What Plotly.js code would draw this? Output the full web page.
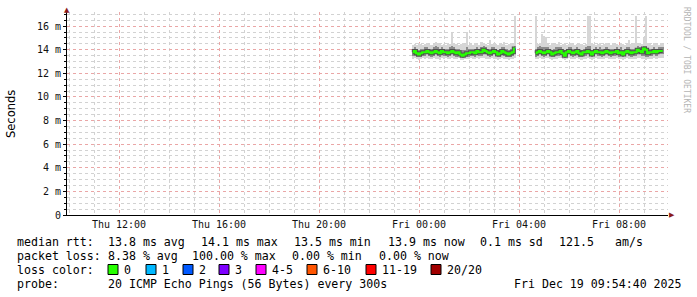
<!DOCTYPE html>
<html><head><meta charset="utf-8">
<script src="https://cdn.plot.ly/plotly-3.0.1.min.js"></script>
<style>html,body{margin:0;padding:0;background:#fff}#chart{width:697px;height:297px}</style>
</head><body><div id="chart"></div>
<script>
// ---- data (milliseconds), 5-minute steps starting Thu 23:45 ----
const startTime = '2025-12-18T23:45:00Z';
const stepSeconds = 300;

const medianMs = [
 13.8,13.9,13.7,13.6,13.7,13.8,13.8,13.9,13.8,13.7,
 13.8,13.9,13.8,13.7,13.9,13.8,13.8,13.7,13.8,13.9,
 13.8,13.7,13.8,13.6,13.5,13.6,13.7,13.7,13.8,13.8,
 13.7,13.9,13.8,13.8,14.0,13.9,13.8,13.7,13.8,13.9,
 13.8,13.6,13.7,13.9,13.8,13.7,13.6,13.7,13.8,14.1,
 null,null,null,null,null,null,null,null,null,
 13.7,13.8,13.9,13.8,13.7,13.8,13.9,13.8,13.6,13.7,
 13.8,13.8,13.9,13.7,13.5,13.8,13.9,13.8,13.7,13.8,
 13.9,13.7,13.6,13.8,13.8,13.9,13.8,13.6,13.8,13.9,
 13.8,13.8,13.7,13.8,13.9,13.8,13.7,13.8,13.8,13.9,
 13.7,13.8,13.6,13.8,13.9,13.8,13.7,13.8,13.8,14.0,
 13.9,13.8,14.1,14.0,13.7,13.8,13.8,13.9,13.8,13.9,
 13.9,13.9
];
const minMs = [
 13.2,13.3,13.2,13.1,13.2,13.3,13.2,13.3,13.2,13.2,
 13.3,13.2,13.2,13.1,13.3,13.2,13.3,13.2,13.2,13.3,
 13.2,13.2,13.3,13.1,13.1,13.2,13.2,13.2,13.3,13.2,
 13.2,13.3,13.2,13.3,13.3,13.2,13.2,13.2,13.3,13.2,
 13.2,13.1,13.2,13.3,13.2,13.2,13.1,13.2,13.2,13.3,
 null,null,null,null,null,null,null,null,null,
 13.2,13.2,13.3,13.2,13.2,13.3,13.3,13.2,13.1,13.2,
 13.2,13.3,13.3,13.2,13.1,13.2,13.3,13.2,13.2,13.2,
 13.3,13.2,13.1,13.2,13.2,13.3,13.2,13.1,13.2,13.3,
 13.2,13.2,13.2,13.2,13.3,13.2,13.2,13.2,13.2,13.3,
 13.2,13.2,13.1,13.2,13.3,13.2,13.2,13.2,13.2,13.3,
 13.3,13.2,13.2,13.1,13.2,13.2,13.2,13.3,13.2,13.3,
 13.3,13.3
];
const q1Ms = [
 13.5,13.5,13.4,13.4,13.4,13.5,13.5,13.6,13.5,13.4,
 13.5,13.6,13.5,13.4,13.6,13.5,13.5,13.4,13.5,13.6,
 13.5,13.4,13.5,13.4,13.3,13.4,13.4,13.4,13.5,13.5,
 13.4,13.6,13.5,13.5,13.6,13.6,13.5,13.4,13.5,13.6,
 13.5,13.4,13.4,13.6,13.5,13.4,13.4,13.4,13.5,13.6,
 null,null,null,null,null,null,null,null,null,
 13.4,13.5,13.6,13.5,13.4,13.5,13.6,13.5,13.4,13.4,
 13.5,13.5,13.6,13.4,13.3,13.5,13.6,13.5,13.4,13.5,
 13.6,13.4,13.4,13.5,13.5,13.6,13.5,13.4,13.5,13.6,
 13.5,13.5,13.4,13.5,13.6,13.5,13.4,13.5,13.5,13.6,
 13.4,13.5,13.4,13.5,13.6,13.5,13.4,13.5,13.5,13.7,
 13.6,13.5,13.5,13.4,13.4,13.5,13.5,13.6,13.5,13.6,
 13.6,13.6
];
const q3Ms = [
 14.1,14.2,14.1,14.0,14.1,14.1,14.2,14.2,14.1,14.1,
 14.2,14.3,14.2,14.1,14.2,14.1,14.1,14.1,14.2,14.3,
 14.2,14.1,14.1,14.0,14.0,14.0,14.2,14.1,14.1,14.1,
 14.1,14.2,14.1,14.2,14.3,14.2,14.1,14.1,14.2,14.2,
 14.1,14.0,14.1,14.2,14.2,14.1,14.0,14.1,14.1,14.3,
 null,null,null,null,null,null,null,null,null,
 14.1,14.2,14.3,14.2,14.2,14.2,14.2,14.1,14.0,14.1,
 14.2,14.2,14.2,14.1,14.0,14.1,14.2,14.2,14.1,14.1,
 14.2,14.1,14.0,14.1,14.2,14.3,14.3,14.0,14.1,14.2,
 14.1,14.2,14.1,14.1,14.2,14.1,14.1,14.1,14.1,14.2,
 14.1,14.2,14.0,14.1,14.2,14.2,14.1,14.1,14.1,14.3,
 14.2,14.2,14.3,14.3,14.1,14.1,14.1,14.2,14.1,14.2,
 14.2,14.2
];
const maxMs = [
 14.4,14.5,14.4,14.6,14.5,14.4,14.5,14.6,14.5,14.4,
 14.5,14.7,14.6,14.5,14.4,14.5,14.4,14.6,14.5,15.4,
 14.6,14.5,14.4,14.5,14.6,14.5,15.5,14.4,14.5,14.4,
 14.6,14.5,14.4,14.7,14.6,14.5,14.4,14.8,14.5,14.6,
 14.5,14.4,14.6,14.5,14.7,14.4,14.5,14.6,14.5,16.9,
 null,null,null,null,null,null,null,null,null,
 16.9,14.5,14.6,15.3,15.2,15.1,14.5,14.4,14.6,14.5,
 14.5,14.7,14.4,14.5,14.6,14.4,14.5,14.6,14.5,14.4,
 14.5,14.6,14.5,14.4,14.5,16.9,16.9,14.6,14.5,14.4,
 14.5,14.6,14.4,14.5,14.6,14.5,14.4,14.6,14.5,14.5,
 14.4,14.6,14.5,14.4,14.5,14.8,14.5,14.6,16.9,14.5,
 14.6,14.5,15.0,16.9,14.6,14.5,14.4,14.6,14.5,14.4,
 14.6,14.5
];
const lostPings = [
 0,0,0,0,0,0,0,0,0,0, 0,0,0,0,0,0,0,0,0,0, 0,0,0,0,0,0,0,0,0,0,
 0,0,0,0,0,0,0,0,0,0, 0,0,0,0,0,0,0,0,0,1,
 20,20,20,20,20,20,20,20,20,
 0,0,0,0,0,0,0,0,0,0, 0,0,0,0,0,0,0,0,0,0, 0,0,0,0,0,0,0,0,0,0,
 0,0,0,0,0,0,0,0,0,0, 0,0,0,0,0,0,0,0,0,0, 0,0,1,1,0,0,0,0,0,0,
 0,0
];

const yTickVals = [0,2,4,6,8,10,12,14,16];
const yTickText = ['0','2 m','4 m','6 m','8 m','10 m','12 m','14 m','16 m'];
const xTickVals = ['2025-12-18 12:00','2025-12-18 16:00','2025-12-18 20:00','2025-12-19 00:00','2025-12-19 04:00','2025-12-19 08:00'];
const xTickText = ['Thu 12:00','Thu 16:00','Thu 20:00','Fri 00:00','Fri 04:00','Fri 08:00'];
const xRange = ['2025-12-18 09:55:12','2025-12-19 09:57:36'];

const lossLabels = ['0','1','2','3','4-5','6-10','11-19','20/20'];
const lossColors = ['#26ff00','#00b8ff','#0059ff','#7e00ff','#ff00ff','#ff5500','#ff0000','#a10000'];

const statRtt = ['median rtt:','13.8 ms avg','14.1 ms max','13.5 ms min','13.9 ms now','0.1 ms sd','121.5','am/s'];
const statLoss = ['packet loss:','8.38 % avg','100.00 % max','0.00 % min','0.00 % now'];
const probeText = ['probe:','20 ICMP Echo Pings (56 Bytes) every 300s','Fri Dec 19 09:54:40 2025'];

// ---- build ----
function timeAt(i){
  const d = new Date(Date.parse(startTime) + i*stepSeconds*1000);
  return d.toISOString().slice(0,19).replace('T',' ');
}
const times = medianMs.map((_,i)=>timeAt(i));
const binMs = stepSeconds*1000;

const L=67,R=668,T=12,B=215;
const px = x => (x-L)/(R-L);
const py = y => (B-y)/(B-T);

const span = (a,b)=>a.map((v,i)=> (v==null||b[i]==null)?null:+(b[i]-v).toFixed(3));

function lossColorIndex(n){
  if(n==null) return 0;
  if(n<=3) return n;
  if(n<=5) return 4;
  if(n<=10) return 5;
  if(n<=19) return 6;
  return 7;
}
const lossMedian = medianMs.map((v,i)=> (v!=null && lostPings[i]>0) ? 0.17 : null);
const lossBase = medianMs.map((v,i)=> v==null?null:v-0.085);
const lossCol = lostPings.map(n=>lossColors[lossColorIndex(n)]);

const traces = [
  {type:'bar', x:times, base:minMs, y:span(minMs,maxMs), width:binMs,
   marker:{color:'#d6d6d6', line:{width:0}}, hoverinfo:'skip', showlegend:false},
  {type:'bar', x:times, base:q1Ms, y:span(q1Ms,q3Ms), width:binMs,
   marker:{color:'#8c8c8c', line:{width:0}}, hoverinfo:'skip', showlegend:false},
  {type:'scatter', mode:'lines', x:times, y:medianMs, line:{color:'#505050', width:4, shape:'hvh'},
   connectgaps:false, hoverinfo:'skip', showlegend:false},
  {type:'scatter', mode:'lines', x:times, y:medianMs, line:{color:'#26ff00', width:2, shape:'hvh'},
   connectgaps:false, hoverinfo:'skip', showlegend:false},
  {type:'bar', x:times, base:lossBase, y:lossMedian, width:binMs,
   marker:{color:lossCol, line:{width:0}}, hoverinfo:'skip', showlegend:false}
];

const mono = 'DejaVu Sans Mono';
const annotations = [];
function txt(text,x,y,opts){
  annotations.push(Object.assign({text, x:px(x), y:py(y), xref:'paper', yref:'paper',
    xanchor:'left', yanchor:'middle', showarrow:false, borderpad:0,
    font:{family:mono, size:11.6, color:'#000'}}, opts||{}));
}
[16,107,200,293,387,479,558,614].forEach((x,i)=>txt(statRtt[i],x,241.5));
[16,107,191,291,378].forEach((x,i)=>txt(statLoss[i],x,255.5));
txt('loss color:',16,269.5);
const boxX = [108,146,183,219,256,307,366,431];
const shapes = [];
boxX.forEach((x,i)=>{
  shapes.push({type:'rect', xref:'paper', yref:'paper', x0:px(x), x1:px(x+10), y0:py(274.5), y1:py(264.5),
    fillcolor:lossColors[i], line:{color:'#000', width:1}});
  txt(lossLabels[i], x+15, 269.5);
});
[16,107,513].forEach((x,i)=>txt(probeText[i],x,283.5));
txt('Seconds',11,114,{xanchor:'center', textangle:-90, font:{family:'DejaVu Sans', size:11.5, color:'#000'}});
txt('RRDTOOL / TOBI OETIKER',687,60,{xanchor:'center', textangle:90, font:{family:mono, size:8, color:'#b4b4b4'}});
txt('▲',67,10,{xanchor:'center', font:{family:'DejaVu Sans', size:7, color:'#8b1a1a'}});
txt('▶',672,215,{xanchor:'center', font:{family:'DejaVu Sans', size:7, color:'#8b1a1a'}});

const gridRed = '#eaa6a6', gridGrey = '#d2d2d2';
const layout = {
  width:697, height:297,
  margin:{l:L, r:697-R, t:T, b:297-B},
  paper_bgcolor:'#fff', plot_bgcolor:'#fff',
  barmode:'overlay', bargap:0,
  showlegend:false,
  xaxis:{type:'date', range:xRange, tickmode:'array', tickvals:xTickVals, ticktext:xTickText,
    showgrid:true, gridcolor:gridRed, griddash:'dot', gridwidth:1,
    minor:{dtick:3600000, tick0:'2025-12-18 10:00', showgrid:true, gridcolor:gridGrey, griddash:'dot', ticks:''},
    ticks:'', showline:true, linecolor:'#000', linewidth:1, zeroline:false,
    tickfont:{family:mono, size:10, color:'#111'}, fixedrange:true},
  xaxis2:{type:'date', range:xRange, overlaying:'x', anchor:'y', side:'bottom',
    tick0:'2025-12-18 10:00', dtick:4*3600000, showticklabels:false,
    showgrid:true, gridcolor:gridRed, griddash:'dot', ticks:'outside', ticklen:3, tickcolor:gridRed,
    showline:false, zeroline:false},
  yaxis:{range:[0,17.2], tickmode:'array', tickvals:yTickVals, ticktext:yTickText,
    showgrid:true, gridcolor:gridRed, griddash:'dot',
    minor:{dtick:0.5, showgrid:true, gridcolor:gridGrey, griddash:'dot', ticks:'outside', ticklen:2, tickcolor:'#000'},
    ticks:'outside', ticklen:3, tickcolor:'#000',
    showline:true, linecolor:'#000', linewidth:1, zeroline:false,
    tickfont:{family:mono, size:10, color:'#111'}},
  annotations, shapes
};
Plotly.newPlot('chart', traces, layout, {staticPlot:true, displayModeBar:false});
</script>
</body></html>
